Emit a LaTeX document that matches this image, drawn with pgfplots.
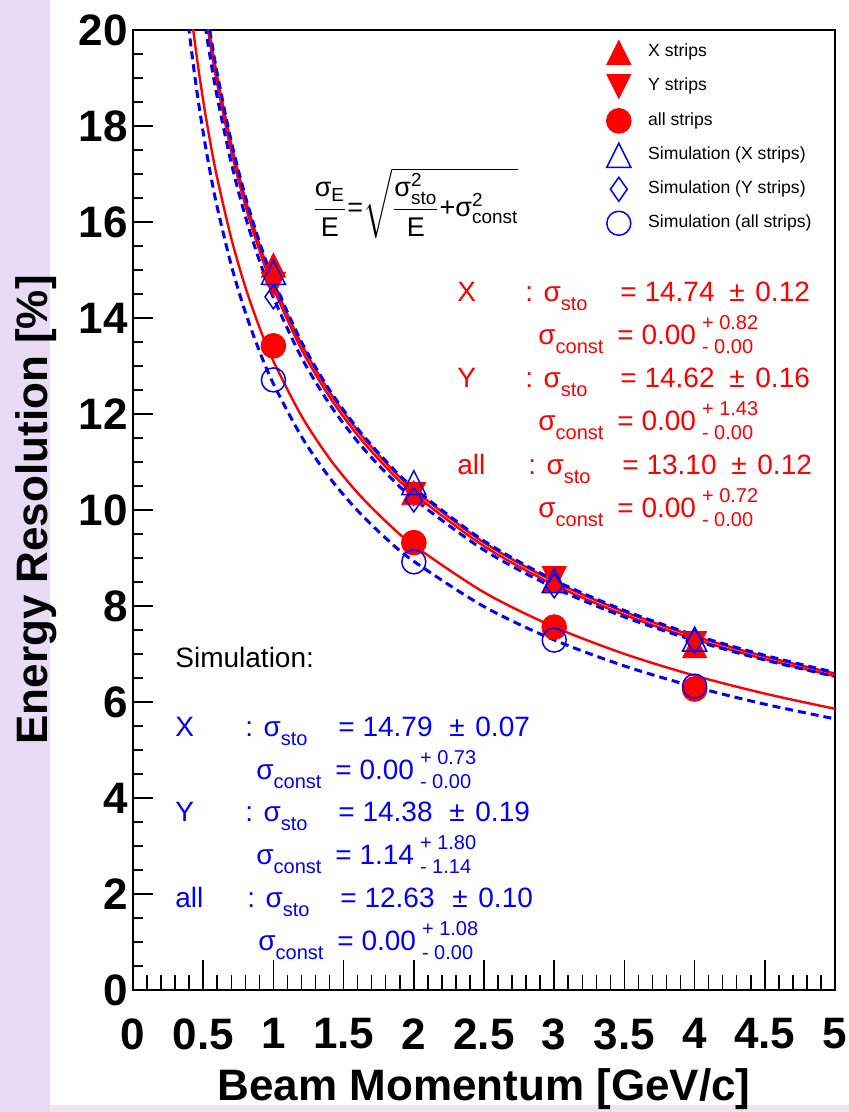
\documentclass[border=0pt]{standalone}
\usepackage{amsmath}
\usepackage{fontspec}
\setmainfont{Liberation Sans}
\usepackage{pgfplots}
\usepackage{pgfplotstable}
\pgfplotsset{compat=1.18}

\definecolor{panelside}{HTML}{E9DBF6}
\definecolor{panelfoot}{HTML}{F1E2F6}

% markers centred on their bounding box
\pgfdeclareplotmark{tup}{%
  \pgfpathmoveto{\pgfqpoint{0pt}{\pgfplotmarksize}}%
  \pgfpathlineto{\pgfqpoint{\pgfplotmarksize}{-\pgfplotmarksize}}%
  \pgfpathlineto{\pgfqpoint{-\pgfplotmarksize}{-\pgfplotmarksize}}%
  \pgfpathclose\pgfusepathqstroke}
\pgfdeclareplotmark{tup*}{%
  \pgfpathmoveto{\pgfqpoint{0pt}{\pgfplotmarksize}}%
  \pgfpathlineto{\pgfqpoint{\pgfplotmarksize}{-\pgfplotmarksize}}%
  \pgfpathlineto{\pgfqpoint{-\pgfplotmarksize}{-\pgfplotmarksize}}%
  \pgfpathclose\pgfusepathqfillstroke}
\pgfdeclareplotmark{tdown*}{%
  \pgfpathmoveto{\pgfqpoint{0pt}{-\pgfplotmarksize}}%
  \pgfpathlineto{\pgfqpoint{\pgfplotmarksize}{\pgfplotmarksize}}%
  \pgfpathlineto{\pgfqpoint{-\pgfplotmarksize}{\pgfplotmarksize}}%
  \pgfpathclose\pgfusepathqfillstroke}
\pgfdeclareplotmark{rhomb}{%
  \pgfpathmoveto{\pgfqpoint{0pt}{\pgfplotmarksize}}%
  \pgfpathlineto{\pgfqpoint{0.7\pgfplotmarksize}{0pt}}%
  \pgfpathlineto{\pgfqpoint{0pt}{-\pgfplotmarksize}}%
  \pgfpathlineto{\pgfqpoint{-0.7\pgfplotmarksize}{0pt}}%
  \pgfpathclose\pgfusepathqstroke}

% sub- and superscripts of the fit results
\newcommand{\lo}[1]{\raisebox{-4.2pt}{\fontsize{10}{10}\selectfont #1}}
\newcommand{\ud}[2]{\hspace{3pt}\rlap{\raisebox{7.5pt}{\fontsize{10}{10}\selectfont #1}}\raisebox{-4.2pt}{\fontsize{10}{10}\selectfont #2}}

% fitted resolution curves sigma_E/E = sqrt(s^2/E + c^2)
\pgfplotstableread{
E     fitX    fitY    fitAll  simX    simY    simAll
0.30  26.911  26.692  23.917  27.003  26.279  23.059
0.35  24.915  24.712  22.143  25.000  24.333  21.349
0.40  23.306  23.116  20.713  23.385  22.765  19.970
0.45  21.973  21.794  19.528  22.048  21.467  18.828
0.50  20.845  20.676  18.526  20.916  20.368  17.862
0.55  19.875  19.714  17.664  19.943  19.424  17.030
0.60  19.029  18.874  16.912  19.094  18.600  16.305
0.70  17.618  17.474  15.658  17.677  17.225  15.096
0.80  16.480  16.346  14.646  16.536  16.118  14.121
0.90  15.537  15.411  13.809  15.590  15.201  13.313
1.00  14.740  14.620  13.100  14.790  14.425  12.630
1.20  13.456  13.346  11.959  13.501  13.177  11.530
1.40  12.457  12.356  11.071  12.500  12.207  10.674
1.60  11.653  11.558  10.356  11.693  11.425   9.985
1.80  10.987  10.897   9.764  11.024  10.779   9.414
2.00  10.423  10.338   9.263  10.458  10.232   8.931
2.50   9.322   9.247   8.285   9.354   9.166   7.988
3.00   8.510   8.441   7.563   8.539   8.380   7.292
3.50   7.879   7.815   7.002   7.906   7.771   6.751
4.00   7.370   7.310   6.550   7.395   7.280   6.315
4.50   6.948   6.892   6.175   6.972   6.874   5.954
5.00   6.592   6.538   5.858   6.614   6.531   5.648
}\fits

\begin{document}
\begin{tikzpicture}
\path[use as bounding box] (0,0) rectangle (424.5pt,556pt);
\fill[panelside] (0,0) rectangle (424.5pt,556pt);
\fill[panelfoot] (25pt,0) rectangle (424.5pt,3.5pt);
\fill[white] (25pt,3.5pt) rectangle (424.5pt,556pt);
\begin{axis}[
  at={(66.5pt,61pt)}, anchor=south west,
  scale only axis, width=351pt, height=480pt,
  xmin=0, xmax=5, ymin=0, ymax=20,
  xtick={0,0.5,...,5}, minor x tick num=4,
  ytick={0,2,...,20}, minor y tick num=3,
  xtick pos=bottom, ytick pos=left, tick align=inside,
  xtick style={/pgfplots/major tick length=15pt,/pgfplots/minor tick length=7.5pt},
  ytick style={/pgfplots/major tick length=10pt,/pgfplots/minor tick length=5pt},
  tick style={line width=0.75pt, black},
  axis line style={line width=1pt},
  /pgf/number format/assume math mode=true,
  ticklabel style={font=\bfseries\fontsize{22}{22}\selectfont, inner sep=0pt},
  xticklabel style={anchor=north, yshift=-14pt},
  yticklabel style={anchor=east, xshift=-2.5pt},
  xlabel={Beam Momentum [GeV/c]},
  ylabel={Energy Resolution [\%]},
  label style={font=\bfseries\fontsize{22}{22}\selectfont, inner sep=0pt},
  xlabel style={at={(axis description cs:0.5,0)}, anchor=base, yshift=-55pt},
  ylabel style={at={(axis description cs:-0.1211,0.5)}, anchor=base},
  legend style={draw=none, fill=none, inner sep=0pt,
    at={(axis description cs:0.6738,0.9895)}, anchor=north west,
    font=\fontsize{8.8}{8.8}\selectfont, row sep=5pt, column sep=8.5pt,
    nodes={inner sep=0pt, text height=6.5pt, text depth=2pt}},
  legend cell align=left,
  legend image code/.code={\draw[mark repeat=2,mark phase=2,#1] plot coordinates {(0pt,0pt)(6pt,0pt)(12pt,0pt)};},
]
% fits to the measured points
\addplot[forget plot, red, line width=1.2pt, smooth, no markers] table[x=E,y=fitX]{\fits};
\addplot[forget plot, red, line width=1.2pt, smooth, no markers] table[x=E,y=fitY]{\fits};
\addplot[forget plot, red, line width=1.2pt, smooth, no markers] table[x=E,y=fitAll]{\fits};
% measurement
\addplot[only marks, red, mark=tup*, mark size=6pt, mark options={fill=red}]
  coordinates {(1,15.10) (2,10.36) (3,8.53) (4,7.17)};
\addlegendentry{X strips}
\addplot[only marks, red, mark=tdown*, mark size=6pt, mark options={fill=red}]
  coordinates {(1,14.70) (2,10.33) (3,8.57) (4,7.22)};
\addlegendentry{Y strips}
\addplot[only marks, red, mark=*, mark size=6.2pt, mark options={fill=red}]
  coordinates {(1,13.42) (2,9.32) (3,7.56) (4,6.27)};
\addlegendentry{all strips}
% simulation
\addplot[only marks, blue, mark=tup, mark size=6pt, mark options={line width=0.75pt}]
  coordinates {(1,14.95) (2,10.57) (3,8.53) (4,7.31)};
\addlegendentry{Simulation (X strips)}
\addplot[only marks, blue, mark=rhomb, mark size=6pt, mark options={line width=0.75pt}]
  coordinates {(1,14.44) (2,10.21) (3,8.42) (4,7.27)};
\addlegendentry{Simulation (Y strips)}
\addplot[only marks, blue, mark=o, mark size=6pt, mark options={line width=0.75pt}]
  coordinates {(1,12.71) (2,8.92) (3,7.29) (4,6.33)};
\addlegendentry{Simulation (all strips)}
% fits to the simulated points
\addplot[forget plot, blue, line width=1.5pt, dash pattern=on 4pt off 2.5pt, smooth, no markers] table[x=E,y=simX]{\fits};
\addplot[forget plot, blue, line width=1.5pt, dash pattern=on 4pt off 2.5pt, smooth, no markers] table[x=E,y=simY]{\fits};
\addplot[forget plot, blue, line width=1.5pt, dash pattern=on 4pt off 2.5pt, smooth, no markers] table[x=E,y=simAll]{\fits};
\end{axis}

% annotations, positioned from the top-left corner
\begin{scope}[shift={(0,556pt)}, x=0.5pt, y=-0.5pt,
  every node/.style={anchor=base west, inner sep=0pt, font=\fontsize{14}{14}\selectfont}]
\node[anchor=west, font=\fontsize{13.5}{13.5}\selectfont] at (312,203)
  {$\dfrac{\text{σ}_{\text{E}}}{\text{E}}\text{=}\sqrt{\rule[-10pt]{0pt}{27pt}\dfrac{\text{σ}^{\text{2}}_{\text{sto}}}{\text{E}}\text{+}\text{σ}^{\text{2}}_{\text{const}}}$};

\begin{scope}[red]
\node at (457,302) {X};
\node at (525,302) {: σ\lo{sto}};
\node at (620,302) {= 14.74};
\node at (729,302) {±};
\node at (755,302) {0.12};
\node at (538,345) {σ\lo{const}};
\node at (617,345) {= 0.00\ud{+ 0.82}{- 0.00}};
\node at (457,388) {Y};
\node at (525,388) {: σ\lo{sto}};
\node at (620,388) {= 14.62};
\node at (729,388) {±};
\node at (755,388) {0.16};
\node at (538,431) {σ\lo{const}};
\node at (617,431) {= 0.00\ud{+ 1.43}{- 0.00}};
\node at (457,475) {all};
\node at (528,475) {: σ\lo{sto}};
\node at (622,475) {= 13.10};
\node at (731,475) {±};
\node at (757,475) {0.12};
\node at (538,518) {σ\lo{const}};
\node at (617,518) {= 0.00\ud{+ 0.72}{- 0.00}};
\end{scope}

\node at (175,668) {Simulation:};
\begin{scope}[blue]
\node at (175,737) {X};
\node at (245,737) {: σ\lo{sto}};
\node at (338,737) {= 14.79};
\node at (449,737) {±};
\node at (475,737) {0.07};
\node at (256,780) {σ\lo{const}};
\node at (335,780) {= 0.00\ud{+ 0.73}{- 0.00}};
\node at (175,822) {Y};
\node at (245,822) {: σ\lo{sto}};
\node at (338,822) {= 14.38};
\node at (449,822) {±};
\node at (475,822) {0.19};
\node at (256,865) {σ\lo{const}};
\node at (335,865) {= 1.14\ud{+ 1.80}{- 1.14}};
\node at (175,908) {all};
\node at (247,908) {: σ\lo{sto}};
\node at (340,908) {= 12.63};
\node at (452,908) {±};
\node at (478,908) {0.10};
\node at (258,951) {σ\lo{const}};
\node at (337,951) {= 0.00\ud{+ 1.08}{- 0.00}};
\end{scope}
\end{scope}
\end{tikzpicture}
\end{document}
